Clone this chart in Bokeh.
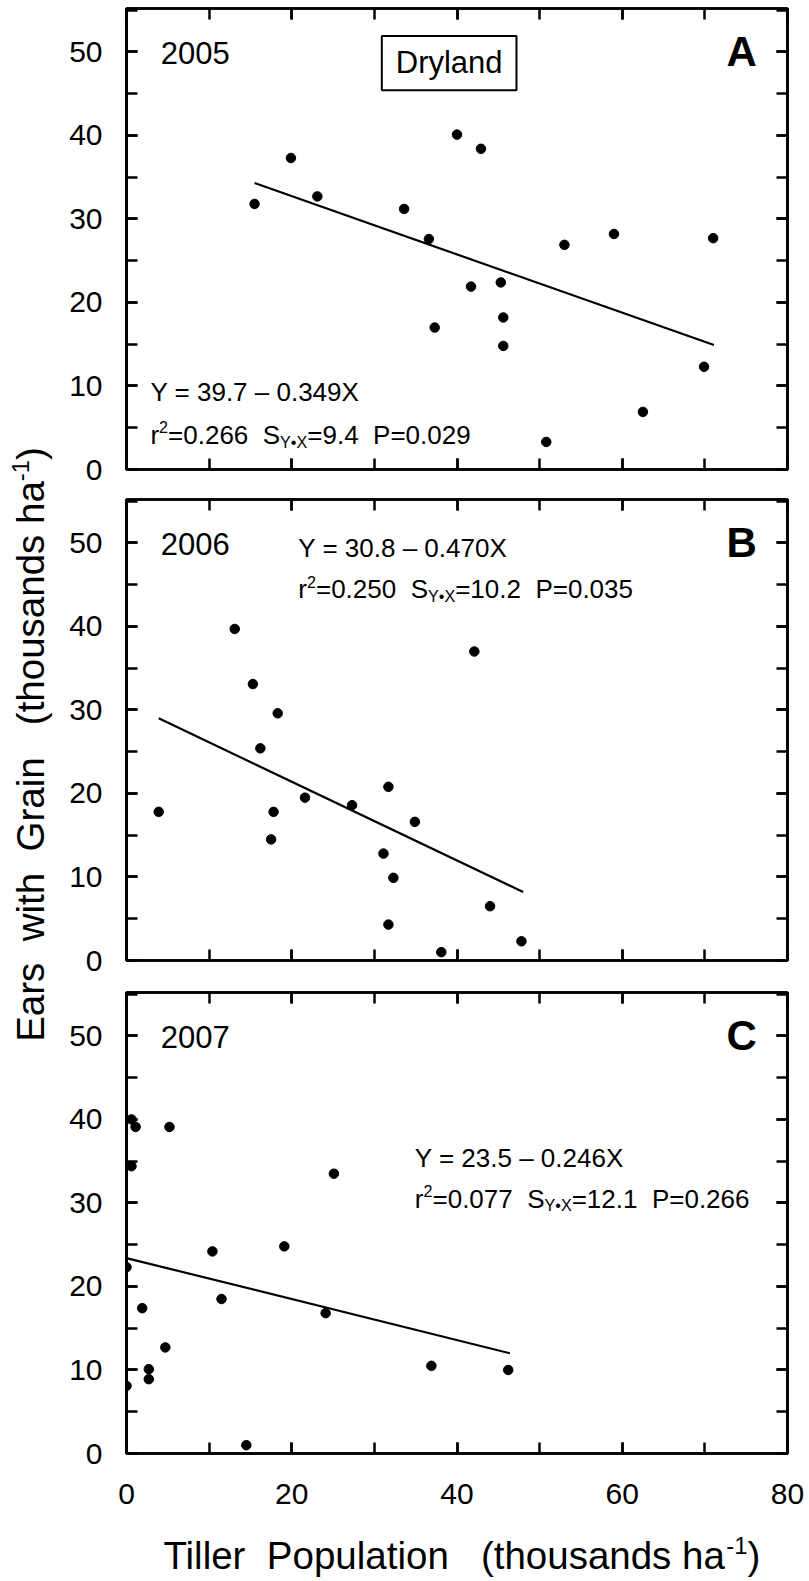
import math
from bokeh.plotting import figure
from bokeh.models import Range1d, LinearAxis, SingleIntervalTicker, Label, BoxAnnotation
from bokeh.layouts import row, column
from bokeh.embed import file_html
from bokeh.resources import INLINE

# ---------------- data ----------------
years = ["2005", "2006", "2007"]
panel_letters = ["A", "B", "C"]

x_2005 = [15.5, 19.9, 23.1, 33.6, 36.6, 37.3, 40.0, 42.9, 41.7, 45.3, 45.6, 45.6, 50.8, 53.0, 59.0, 62.5, 69.9, 71.0]
y_2005 = [31.8, 37.3, 32.7, 31.2, 27.6, 17.0, 40.1, 38.4, 21.9, 22.4, 18.2, 14.8, 3.3, 26.9, 28.2, 6.9, 12.3, 27.7]

x_2006 = [3.9, 13.1, 15.3, 18.3, 16.2, 21.6, 17.8, 17.5, 27.3, 31.7, 34.9, 31.1, 32.3, 31.7, 42.1, 44.0, 38.1, 47.8]
y_2006 = [17.8, 39.7, 33.1, 29.6, 25.4, 19.5, 17.8, 14.5, 18.6, 20.8, 16.6, 12.8, 9.9, 4.3, 37.0, 6.5, 1.0, 2.3]

x_2007 = [0.6, 1.1, 5.2, 0.6, 0.0, 0.0, 1.9, 4.7, 2.7, 2.7, 10.4, 11.5, 14.5, 19.1, 25.1, 24.1, 36.9, 46.2]
y_2007 = [40.0, 39.1, 39.1, 34.4, 22.3, 8.1, 17.4, 12.7, 10.1, 8.9, 24.2, 18.5, 1.0, 24.8, 33.5, 16.8, 10.5, 10.0]

fit_x_2005 = [15.5, 71.1]
fit_y_2005 = [34.3, 14.9]
fit_x_2006 = [3.9, 48.0]
fit_y_2006 = [29.0, 8.2]
fit_x_2007 = [0.0, 46.4]
fit_y_2007 = [23.4, 12.0]

equations = ["Y = 39.7 \u2013 0.349X", "Y = 30.8 \u2013 0.470X", "Y = 23.5 \u2013 0.246X"]
r2_values = ["0.266", "0.250", "0.077"]
syx_values = ["9.4", "10.2", "12.1"]
p_values = ["0.029", "0.035", "0.266"]

treatment = "Dryland"
x_ticks_interval = 20
y_ticks_interval = 10
x_title = ["Tiller\u00a0\u00a0Population\u00a0\u00a0\u00a0(thousands ha", "-1", ")"]
y_title = ["Ears\u00a0\u00a0with\u00a0\u00a0Grain\u00a0\u00a0\u00a0(thousands ha", "-1", ")"]

# ---------------- layout / style ----------------
FONT = "Liberation Sans"
BASE_FIX = 0.33   # em correction so that the alphabetic baseline sits where intended
W_ARIAL = {' ': 278, '\u00a0': 278, '(': 333, ')': 333, '-': 333, '.': 278, '=': 584,
           '\u2013': 556, '\u2022': 350, 'A': 667, 'D': 722, 'E': 667, 'G': 778, 'P': 667,
           'S': 667, 'T': 611, 'X': 667, 'Y': 667, 'a': 556, 'd': 556, 'e': 556, 'h': 556,
           'i': 222, 'l': 222, 'n': 556, 'o': 556, 'p': 556, 'r': 333, 's': 500, 't': 278,
           'u': 556, 'w': 722, 'y': 500}


def tw(s, size):
    return sum(W_ARIAL.get(c, 556) for c in s) / 1000.0 * size


def add_text(p, x, y, text, size, align="left", bold=False):
    lab = Label(x=x, y=y, y_offset=BASE_FIX * size, text=text, text_font=FONT,
                text_font_size=f"{size}px", text_align=align, text_baseline="alphabetic",
                text_color="black", text_font_style="bold" if bold else "normal")
    p.add_layout(lab)


def rich(p, x, y, parts, size, align="left", angle=0.0):
    """parts: list of (text, kind) with kind in n / sup / sub"""
    items = []
    for txt, kind in parts:
        if kind == "sup":
            fs, dy = size * 0.62, size * 0.40
        elif kind == "sub":
            fs, dy = size * 0.62, -size * 0.14
        else:
            fs, dy = size, 0.0
        items.append((txt, fs, dy, tw(txt, fs)))
    total = sum(i[3] for i in items)
    cum = -total / 2.0 if align == "center" else 0.0
    for txt, fs, dy, w in items:
        dy2 = dy + BASE_FIX * fs
        if angle == 0:
            lab = Label(x=x, y=y, x_offset=cum, y_offset=dy2, text=txt)
        else:
            lab = Label(x=x, y=y, x_offset=-dy2, y_offset=cum, text=txt,
                        angle=angle, angle_units="rad")
        lab.text_font = FONT
        lab.text_font_size = f"{fs:.2f}px"
        lab.text_align = "left"
        lab.text_baseline = "alphabetic"
        lab.text_color = "black"
        p.add_layout(lab)
        cum += w


LEFT_W = 64
PW = 809 - LEFT_W
FRAME_LEFT = 126
FRAME_RIGHT = 787
FRAME_H = 461
borders = [(8, 15), (15, 16), (16, 70)]
XT_H = 58
EQ_SIZE = 26
eq_pos = [(2.9, 8.3, 3.15), (20.8, 48.35, 43.4), (34.9, 34.4, 29.5)]


def style_axis(ax, show_labels):
    ax.axis_line_width = 2.7
    ax.axis_line_color = "black"
    ax.major_tick_in = 11
    ax.major_tick_out = 0
    ax.minor_tick_in = 11
    ax.minor_tick_out = 0
    ax.major_tick_line_width = 2.5
    ax.minor_tick_line_width = 2.5
    ax.major_tick_line_color = "black"
    ax.minor_tick_line_color = "black"
    ax.major_label_text_font = FONT
    if show_labels:
        ax.major_label_text_font_size = "30px"
        ax.major_label_text_color = "black"
    else:
        ax.major_label_text_font_size = "1px"
        ax.major_label_text_color = None
        ax.major_label_text_alpha = 0
        ax.major_label_standoff = 0


def make_panel(i, xs, ys, fx, fy):
    top, bot = borders[i]
    p = figure(width=PW, height=top + FRAME_H + bot,
               x_range=Range1d(0, 80), y_range=Range1d(0, 55.2),
               output_backend="svg", toolbar_location=None,
               x_axis_location=None, y_axis_location=None,
               min_border_left=FRAME_LEFT - LEFT_W, min_border_right=809 - FRAME_RIGHT,
               min_border_top=top, min_border_bottom=bot)
    p.grid.grid_line_color = None
    p.outline_line_color = "black"
    p.outline_line_width = 2.7
    p.background_fill_color = "white"
    p.border_fill_color = "white"

    for loc in ["left", "right"]:
        ax = LinearAxis(ticker=SingleIntervalTicker(interval=y_ticks_interval, num_minor_ticks=2))
        style_axis(ax, loc == "left")
        if loc == "left":
            ax.major_label_standoff = 24
        p.add_layout(ax, loc)
    for loc in ["above", "below"]:
        ax = LinearAxis(ticker=SingleIntervalTicker(interval=x_ticks_interval, num_minor_ticks=2))
        show = (loc == "below" and i == 2)
        style_axis(ax, show)
        if show:
            ax.major_label_standoff = 30
        p.add_layout(ax, loc)

    p.line(fx, fy, line_color="black", line_width=2.2)
    p.scatter(xs, ys, size=9.5, color="black")

    add_text(p, 4.15, 48.7, years[i], 31)
    add_text(p, 76.3, 48.4, panel_letters[i], 42, align="right", bold=True)

    ex, ey1, ey2 = eq_pos[i]
    rich(p, ex, ey1, [(equations[i], "n")], EQ_SIZE)
    rich(p, ex, ey2, [("r", "n"), ("2", "sup"), ("=" + r2_values[i] + "\u00a0\u00a0S", "n"),
                      ("Y\u2022X", "sub"),
                      ("=" + syx_values[i] + "\u00a0\u00a0P=" + p_values[i], "n")], EQ_SIZE)
    return p


pA = make_panel(0, x_2005, y_2005, fit_x_2005, fit_y_2005)
pB = make_panel(1, x_2006, y_2006, fit_x_2006, fit_y_2006)
pC = make_panel(2, x_2007, y_2007, fit_x_2007, fit_y_2007)

# Dryland box in panel A
box = BoxAnnotation(left=30.9, right=47.2, bottom=45.4, top=51.9,
                    fill_color="white", fill_alpha=1.0, line_color="black",
                    line_alpha=1.0, line_width=2.0)
pA.add_layout(box)
add_text(pA, 39.05, 47.55, treatment, 31, align="center")

# x-axis title figure
px = figure(width=PW, height=XT_H, x_range=Range1d(0, PW), y_range=Range1d(0, XT_H),
            output_backend="svg", toolbar_location=None,
            x_axis_location=None, y_axis_location=None, min_border=0)
px.grid.grid_line_color = None
px.outline_line_color = None
px.background_fill_color = "white"
px.border_fill_color = "white"
rich(px, 442 - LEFT_W, 13, [(x_title[0], "n"), (x_title[1], "sup"), (x_title[2], "n")], 38.5,
     align="center")

# y-axis title figure
TOTAL_H = sum(b[0] + FRAME_H + b[1] for b in borders) + XT_H
pt = figure(width=LEFT_W, height=TOTAL_H, x_range=Range1d(0, LEFT_W), y_range=Range1d(0, TOTAL_H),
            output_backend="svg", toolbar_location=None,
            x_axis_location=None, y_axis_location=None, min_border=0)
pt.grid.grid_line_color = None
pt.outline_line_color = None
pt.background_fill_color = "white"
pt.border_fill_color = "white"
rich(pt, 43, TOTAL_H - 744, [(y_title[0], "n"), (y_title[1], "sup"), (y_title[2], "n")], 38.5,
     align="center", angle=math.pi / 2)

layout = row(pt, column(pA, pB, pC, px))
open("out.html", "w").write(file_html(layout, INLINE))
